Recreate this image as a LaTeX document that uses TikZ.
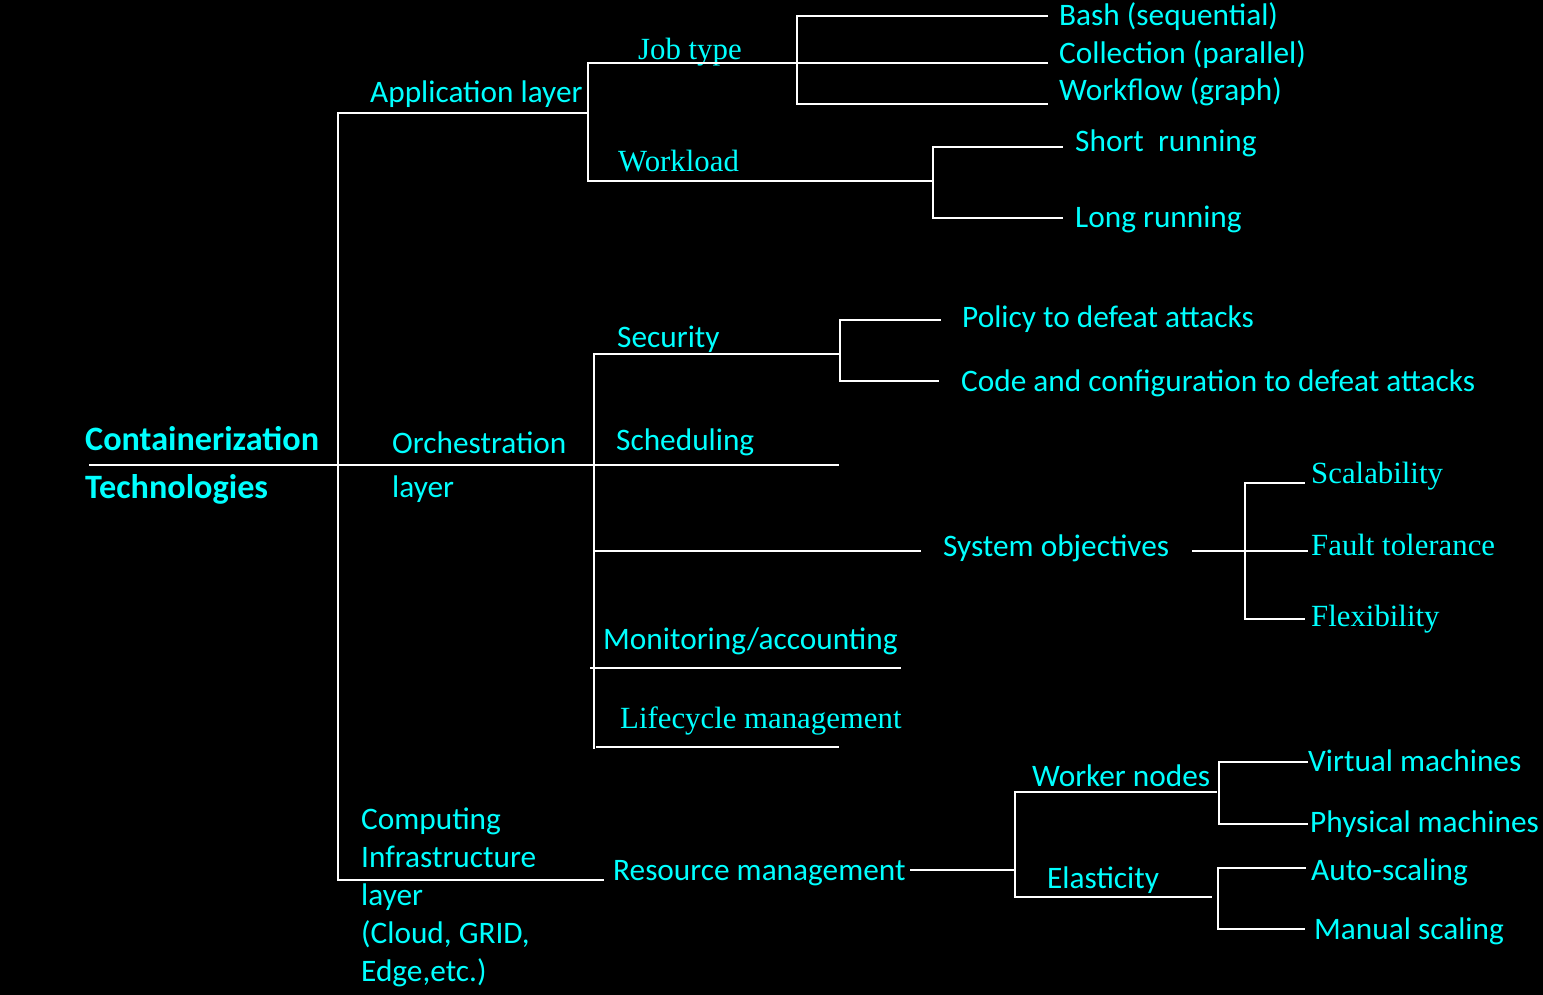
\documentclass[tikz,border=0pt]{standalone}
\usepackage{fontspec}
\setmainfont{Carlito}
\newfontfamily\serifont{Liberation Serif}
\begin{document}
\begin{tikzpicture}[x=1pt,y=-1pt,
  lbl/.style={text={rgb,255:red,0;green,255;blue,255}, font=\fontsize{31.3}{31.3}\selectfont, anchor=base west, inner sep=0pt},
  slbl/.style={lbl, font=\serifont\fontsize{30.8}{30.8}\selectfont},
  blbl/.style={lbl, font=\bfseries\fontsize{34.2}{34.2}\selectfont},
  conn/.style={draw=white, line width=2.7pt, line cap=rect}]
\fill[black] (0,0) rectangle (1543,995);
\useasboundingbox (0,0) rectangle (1543,995);

% ---- texts
\node[blbl] (root1) at (85,450) {Containerization};
\node[blbl] (root2) at (85,498) {Technologies};
\node[lbl] (app) at (370,103) {Application layer};
\node[slbl] (job) at (638,60) {Job type};
\node[slbl] (work) at (618,172) {Workload};
\node[lbl] (bash) at (1059,26) {Bash (sequential)};
\node[lbl] (coll) at (1059,64) {Collection (parallel)};
\node[lbl] (wf) at (1059,101) {Workflow (graph)};
\node[lbl] (short) at (1075,152) {Short\ \ running};
\node[lbl] (long) at (1075,228) {Long running};
\node[lbl] (orch1) at (392,453) {Orchestration};
\node[lbl] (orch2) at (392,497) {layer};
\node[lbl] (sec) at (617,347) {Security};
\node[lbl] (pol) at (962,327) {Policy to defeat attacks};
\node[lbl] (code) at (961,391) {Code and configuration to defeat attacks};
\node[lbl] (sched) at (616,450) {Scheduling};
\node[lbl] (sys) at (943,556) {System objectives};
\node[slbl] (scal) at (1311,483) {Scalability};
\node[slbl] (fault) at (1311,555) {Fault tolerance};
\node[slbl] (flex) at (1311,626) {Flexibility};
\node[lbl] (mon) at (603,649) {Monitoring/accounting};
\node[slbl] (life) at (620,728) {Lifecycle management};
\node[lbl] (comp1) at (361,829) {Computing};
\node[lbl] (comp2) at (361,867) {Infrastructure};
\node[lbl] (comp3) at (361,905) {layer};
\node[lbl] (comp4) at (361,943) {(Cloud, GRID,};
\node[lbl] (comp5) at (361,981) {Edge,etc.)};
\node[lbl] (res) at (613,880) {Resource management};
\node[lbl] (wn) at (1032,786) {Worker nodes};
\node[lbl] (ela) at (1047,888) {Elasticity};
\node[lbl] (vm) at (1308,771) {Virtual machines};
\node[lbl] (pm) at (1310,832) {Physical machines};
\node[lbl] (auto) at (1311,880) {Auto-scaling};
\node[lbl] (man) at (1314,939) {Manual scaling};

% ---- junction coordinates
\coordinate (r0) at (90,465);
\coordinate (rA) at (338,465);
\coordinate (rT) at (338,113);
\coordinate (rB) at (338,880);
\coordinate (aJ) at (588,113);
\coordinate (aT) at (588,63);
\coordinate (aB) at (588,181);
\coordinate (jJ) at (797,63);
\coordinate (jT) at (797,16);
\coordinate (jB) at (797,104);
\coordinate (jE1) at (1047,16);
\coordinate (jE2) at (1047,63);
\coordinate (jE3) at (1047,104);
\coordinate (wJ) at (933,181);
\coordinate (wT) at (933,147);
\coordinate (wB) at (933,218);
\coordinate (wE1) at (1062,147);
\coordinate (wE2) at (1062,218);
\coordinate (oJ) at (594,465);
\coordinate (oT) at (594,354);
\coordinate (oB) at (594,748);
\coordinate (sJ) at (840,354);
\coordinate (sT) at (840,320);
\coordinate (sB) at (840,381);
\coordinate (sE1) at (940,320);
\coordinate (sE2) at (938,381);
\coordinate (schE) at (838,465);
\coordinate (soS) at (594,551);
\coordinate (soE) at (920,551);
\coordinate (soR) at (1193,551);
\coordinate (soJ) at (1245,551);
\coordinate (soT) at (1245,483);
\coordinate (soB) at (1245,619);
\coordinate (soE1) at (1304,483);
\coordinate (soE2) at (1307,551);
\coordinate (soE3) at (1304,619);
\coordinate (monS) at (591,668);
\coordinate (monE) at (900,668);
\coordinate (lifS) at (597,747);
\coordinate (lifE) at (838,747);
\coordinate (cE) at (603,880);
\coordinate (resS) at (911,870);
\coordinate (resJ) at (1015,870);
\coordinate (resT) at (1015,792);
\coordinate (resB) at (1015,897);
\coordinate (wnE) at (1216,792);
\coordinate (elE) at (1211,897);
\coordinate (wnT) at (1219,762);
\coordinate (wnB) at (1219,824);
\coordinate (wnE1) at (1307,762);
\coordinate (wnE2) at (1307,824);
\coordinate (elT) at (1218,868);
\coordinate (elB) at (1218,929);
\coordinate (elE1) at (1305,868);
\coordinate (elE2) at (1304,929);

% ---- connectors
\draw[conn] (r0) -- (rA) -- (oJ) -- (schE);
\draw[conn] (rT) -- (rB);
\draw[conn] (rT) -- (aJ);
\draw[conn] (aT) -- (aB);
\draw[conn] (aT) -- (jJ) -- (jE2);
\draw[conn] (jT) -- (jB);
\draw[conn] (jT) -- (jE1);
\draw[conn] (jB) -- (jE3);
\draw[conn] (aB) -- (wJ);
\draw[conn] (wT) -- (wB);
\draw[conn] (wT) -- (wE1);
\draw[conn] (wB) -- (wE2);
\draw[conn] (oT) -- (oB);
\draw[conn] (oT) -- (sJ);
\draw[conn] (sT) -- (sB);
\draw[conn] (sT) -- (sE1);
\draw[conn] (sB) -- (sE2);
\draw[conn] (soS) -- (soE);
\draw[conn] (soR) -- (soJ) -- (soE2);
\draw[conn] (soT) -- (soB);
\draw[conn] (soT) -- (soE1);
\draw[conn] (soB) -- (soE3);
\draw[conn] (monS) -- (monE);
\draw[conn] (lifS) -- (lifE);
\draw[conn] (rB) -- (cE);
\draw[conn] (resS) -- (resJ);
\draw[conn] (resT) -- (resB);
\draw[conn] (resT) -- (wnE);
\draw[conn] (resB) -- (elE);
\draw[conn] (wnT) -- (wnB);
\draw[conn] (wnT) -- (wnE1);
\draw[conn] (wnB) -- (wnE2);
\draw[conn] (elT) -- (elB);
\draw[conn] (elT) -- (elE1);
\draw[conn] (elB) -- (elE2);
\end{tikzpicture}
\end{document}
